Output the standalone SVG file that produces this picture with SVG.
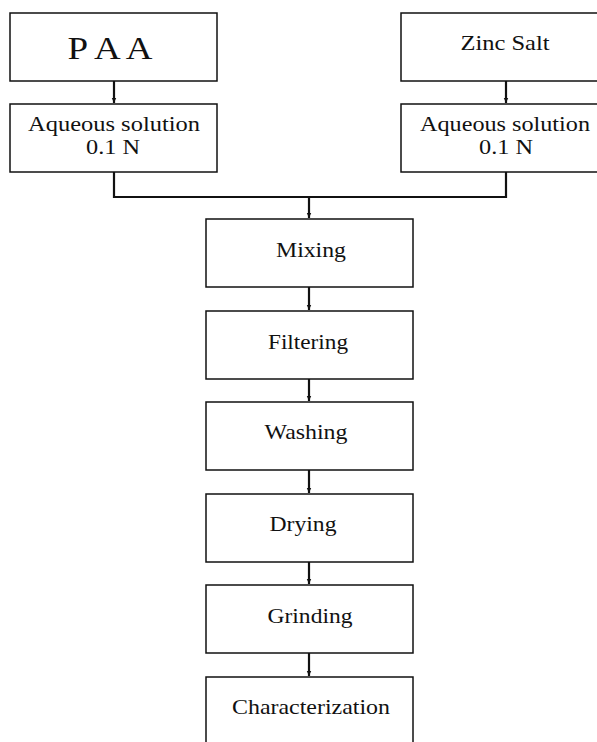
<svg xmlns="http://www.w3.org/2000/svg" width="597" height="742" viewBox="0 0 597 742">
<defs>
<style>
.box{fill:#fff;stroke:#111;stroke-width:1.5}
.lbl{font-size:22px;fill:#111;text-anchor:middle}
.big{font-size:31px}
.con{fill:none;stroke:#111;stroke-width:2.2}
</style>
<marker id="ah" markerWidth="6" markerHeight="6" refX="5" refY="3" orient="auto" markerUnits="userSpaceOnUse">
<path d="M0,0.8 L5,3 L0,5.2 Z" fill="#111"/>
</marker>
</defs>
<rect width="597" height="742" fill="#fff"/>
<g id="connectors">
<path class="con" d="M114,81 V103" marker-end="url(#ah)"/>
<path class="con" d="M506,81 V103" marker-end="url(#ah)"/>
<path class="con" d="M114,172 V197 H506 V172"/>
<path class="con" d="M309,197 V218" marker-end="url(#ah)"/>
<path class="con" d="M309,287 V310" marker-end="url(#ah)"/>
<path class="con" d="M309,379 V401" marker-end="url(#ah)"/>
<path class="con" d="M309,470 V493" marker-end="url(#ah)"/>
<path class="con" d="M309,562 V584" marker-end="url(#ah)"/>
<path class="con" d="M309,653 V676" marker-end="url(#ah)"/>
</g>
<g id="nodes" font-family="'Liberation Serif', 'Times New Roman', serif">
<g id="paa">
<rect class="box" x="10" y="13" width="207" height="68"/>
<text class="lbl big" x="110" y="59" textLength="85" lengthAdjust="spacingAndGlyphs">P A A</text>
</g>
<g id="paa-solution">
<rect class="box" x="10" y="104" width="207" height="68"/>
<text class="lbl" x="114" y="131" textLength="172" lengthAdjust="spacingAndGlyphs">Aqueous solution</text>
<text class="lbl" x="113" y="154" textLength="54" lengthAdjust="spacingAndGlyphs">0.1 N</text>
</g>
<g id="zinc">
<rect class="box" x="401" y="13" width="215" height="68"/>
<text class="lbl" x="505" y="50" textLength="89" lengthAdjust="spacingAndGlyphs">Zinc Salt</text>
</g>
<g id="zinc-solution">
<rect class="box" x="401" y="104" width="215" height="68"/>
<text class="lbl" x="505" y="131" textLength="170" lengthAdjust="spacingAndGlyphs">Aqueous solution</text>
<text class="lbl" x="506" y="154" textLength="54" lengthAdjust="spacingAndGlyphs">0.1 N</text>
</g>
<g id="mixing">
<rect class="box" x="206" y="219" width="207" height="68"/>
<text class="lbl" x="311" y="257" textLength="70" lengthAdjust="spacingAndGlyphs">Mixing</text>
</g>
<g id="filtering">
<rect class="box" x="206" y="311" width="207" height="68"/>
<text class="lbl" x="308" y="349" textLength="80" lengthAdjust="spacingAndGlyphs">Filtering</text>
</g>
<g id="washing">
<rect class="box" x="206" y="402" width="207" height="68"/>
<text class="lbl" x="306" y="439" textLength="83" lengthAdjust="spacingAndGlyphs">Washing</text>
</g>
<g id="drying">
<rect class="box" x="206" y="494" width="207" height="68"/>
<text class="lbl" x="303" y="531" textLength="67" lengthAdjust="spacingAndGlyphs">Drying</text>
</g>
<g id="grinding">
<rect class="box" x="206" y="585" width="207" height="68"/>
<text class="lbl" x="310" y="623" textLength="85" lengthAdjust="spacingAndGlyphs">Grinding</text>
</g>
<g id="characterization">
<rect class="box" x="206" y="677" width="207" height="80"/>
<text class="lbl" x="311" y="714" textLength="158" lengthAdjust="spacingAndGlyphs">Characterization</text>
</g>
</g>
</svg>
